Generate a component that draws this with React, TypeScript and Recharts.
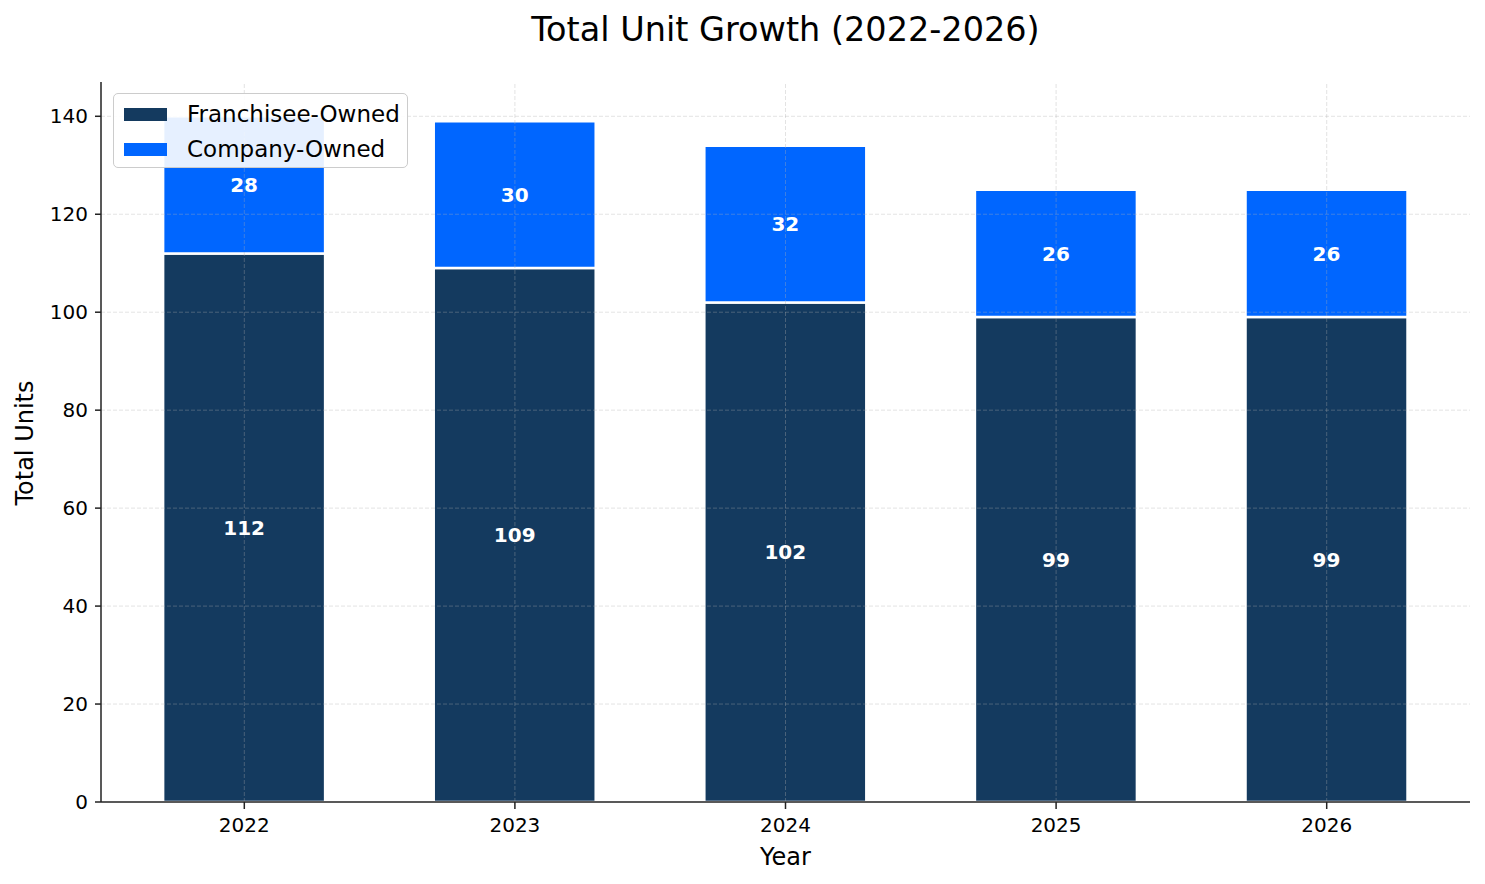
import React from "react";
import {
  BarChart,
  Bar,
  XAxis,
  YAxis,
  ReferenceLine,
  LabelList,
} from "recharts";

const years = ["2022", "2023", "2024", "2025", "2026"];
const franchiseeOwned = [112, 109, 102, 99, 99];
const companyOwned = [28, 30, 32, 26, 26];
const yTicks = [0, 20, 40, 60, 80, 100, 120, 140];

const NAVY = "#143A5F";
const BLUE = "#0066FF";
const FONT = "'DejaVu Sans', sans-serif";

const data = years.map((y, i) => ({
  year: y,
  franchisee: franchiseeOwned[i],
  company: companyOwned[i],
}));

const W = 1485;
const H = 884;
const PLOT_LEFT = 101;
const PLOT_RIGHT = 1470;
const PLOT_TOP = 82;
const PLOT_BOTTOM = 802;
const Y_AXIS_W = 60;
const X_AXIS_H = 50;

const gridStroke = "#b0b0b0";

export default function App() {
  return (
    <div
      style={{
        position: "absolute",
        left: 0,
        top: 0,
        width: W,
        height: H,
        background: "#fff",
        fontFamily: FONT,
      }}
    >
      <BarChart
        width={W}
        height={H}
        data={data}
        margin={{
          top: PLOT_TOP,
          right: W - PLOT_RIGHT,
          bottom: H - PLOT_BOTTOM - X_AXIS_H,
          left: PLOT_LEFT - Y_AXIS_W,
        }}
        barCategoryGap="20%"
      >
        <XAxis
          dataKey="year"
          height={X_AXIS_H}
          padding={{ left: 8, right: 8 }}
          tickSize={7}
          tickMargin={9}
          tick={{ fill: "#000", fontSize: 20, fontFamily: FONT }}
          axisLine={{ stroke: "#222", strokeWidth: 1.5 }}
          tickLine={{ stroke: "#222", strokeWidth: 1.5 }}
        />
        <YAxis
          width={Y_AXIS_W}
          domain={[0, 147]}
          ticks={yTicks}
          tickSize={6}
          tickMargin={7}
          tick={{ fill: "#000", fontSize: 20, fontFamily: FONT }}
          axisLine={{ stroke: "#222", strokeWidth: 1.5 }}
          tickLine={{ stroke: "#222", strokeWidth: 1.5 }}
        />
        <Bar
          dataKey="franchisee"
          stackId="a"
          fill={NAVY}
          stroke="#fff"
          strokeWidth={2.5}
          isAnimationActive={false}
        >
          <LabelList
            dataKey="franchisee"
            position="center"
            fill="#fff"
            fontSize={20}
            fontWeight="bold"
            fontFamily={FONT}
          />
        </Bar>
        <Bar
          dataKey="company"
          stackId="a"
          fill={BLUE}
          stroke="#fff"
          strokeWidth={2.5}
          isAnimationActive={false}
        >
          <LabelList
            dataKey="company"
            position="center"
            fill="#fff"
            fontSize={20}
            fontWeight="bold"
            fontFamily={FONT}
          />
        </Bar>
        {yTicks.slice(1).map((t) => (
          <ReferenceLine
            key={"y" + t}
            y={t}
            stroke={gridStroke}
            strokeOpacity={0.35}
            strokeWidth={1}
            strokeDasharray="4 2"
          />
        ))}
        {years.map((yr) => (
          <ReferenceLine
            key={"x" + yr}
            x={yr}
            stroke={gridStroke}
            strokeOpacity={0.35}
            strokeWidth={1}
            strokeDasharray="4 2"
          />
        ))}
      </BarChart>

      <svg
        width={W}
        height={H}
        style={{ position: "absolute", left: 0, top: 0, pointerEvents: "none" }}
      >
        <text
          x={(PLOT_LEFT + PLOT_RIGHT) / 2}
          y={41}
          textAnchor="middle"
          fontSize={33.5}
          fontFamily={FONT}
          fill="#000"
        >
          Total Unit Growth (2022-2026)
        </text>
        <text
          x={(PLOT_LEFT + PLOT_RIGHT) / 2}
          y={865}
          textAnchor="middle"
          fontSize={24}
          fontFamily={FONT}
          fill="#000"
        >
          Year
        </text>
        <text
          x={33}
          y={443}
          textAnchor="middle"
          fontSize={24}
          fontFamily={FONT}
          fill="#000"
          transform="rotate(-90 33 443)"
        >
          Total Units
        </text>
      </svg>

      <div
        style={{
          position: "absolute",
          left: 113,
          top: 93,
          width: 293,
          height: 73,
          background: "rgba(255,255,255,0.9)",
          border: "1.5px solid #cccccc",
          borderRadius: 5,
          fontFamily: FONT,
          fontSize: 23,
          color: "#000",
        }}
      >
        {[
          { name: "Franchisee-Owned", color: NAVY },
          { name: "Company-Owned", color: BLUE },
        ].map((it, i) => (
          <div
            key={it.name}
            style={{
              position: "absolute",
              left: 10,
              top: 6 + i * 35,
              height: 28,
              display: "flex",
              alignItems: "center",
              whiteSpace: "nowrap",
            }}
          >
            <span
              style={{
                display: "inline-block",
                width: 43,
                height: 13,
                background: it.color,
                marginRight: 20,
              }}
            />
            <span style={{ lineHeight: "28px" }}>{it.name}</span>
          </div>
        ))}
      </div>
    </div>
  );
}
